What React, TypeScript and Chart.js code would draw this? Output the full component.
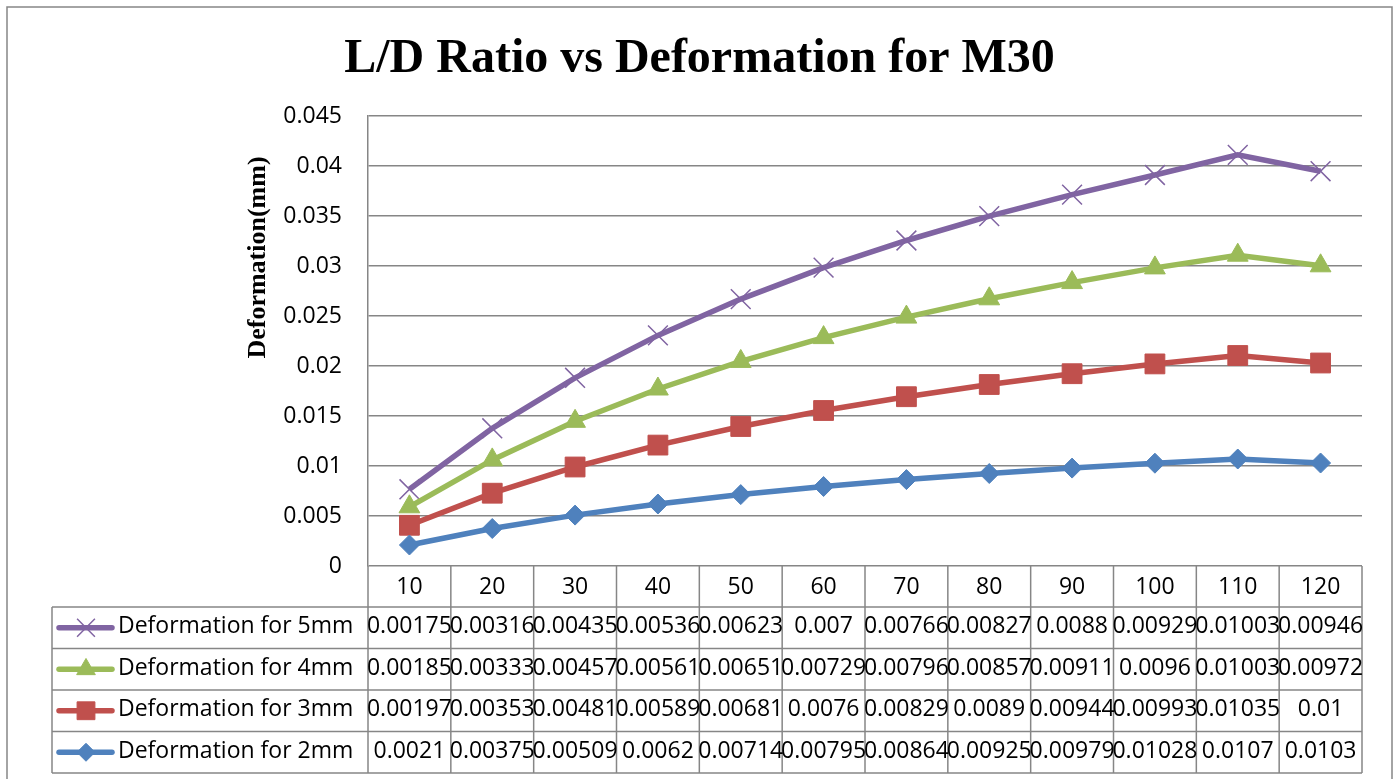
import React, { useEffect, useRef } from 'react';
import { Chart, registerables } from 'chart.js';
import { drawPoint } from 'chart.js/helpers';

Chart.register(...registerables);

const categories = ['10', '20', '30', '40', '50', '60', '70', '80', '90', '100', '110', '120'];
const def2mm = [0.0021, 0.00375, 0.00509, 0.0062, 0.00714, 0.00795, 0.00864, 0.00925, 0.00979, 0.01028, 0.0107, 0.0103];
const def3mm = [0.00197, 0.00353, 0.00481, 0.00589, 0.00681, 0.0076, 0.00829, 0.0089, 0.00944, 0.00993, 0.01035, 0.01];
const def4mm = [0.00185, 0.00333, 0.00457, 0.00561, 0.00651, 0.00729, 0.00796, 0.00857, 0.00911, 0.0096, 0.01003, 0.00972];
const def5mm = [0.00175, 0.00316, 0.00435, 0.00536, 0.00623, 0.007, 0.00766, 0.00827, 0.0088, 0.00929, 0.01003, 0.00946];
const seriesNames = ['Deformation for 2mm', 'Deformation for 3mm', 'Deformation for 4mm', 'Deformation for 5mm'];
const titleText = 'L/D Ratio vs Deformation for M30';
const yAxisTitle = 'Deformation(mm)';

const W = 1391;
const H = 773;
const GRID = '#868686';
const FONT = 'Open Sans';
const FSIZE = 23;

const tablePlugin = {
  id: 'excelTable',
  afterDraw(chart: any) {
    const ctx = chart.ctx as CanvasRenderingContext2D;
    const area = chart.chartArea;
    const xs = chart.scales.x;
    ctx.save();
    // outer border
    ctx.strokeStyle = GRID;
    ctx.lineWidth = 1.5;
    ctx.beginPath();
    ctx.moveTo(1, H + 5);
    ctx.lineTo(1, 1);
    ctx.lineTo(1386, 1);
    ctx.lineTo(1386, H + 5);
    ctx.stroke();

    // title
    ctx.fillStyle = '#000';
    ctx.font = 'bold 48px "Liberation Serif"';
    ctx.textAlign = 'center';
    ctx.textBaseline = 'alphabetic';
    ctx.fillText(titleText, 693.5, 66);

    // y axis title
    ctx.save();
    ctx.translate(259, 251.5);
    ctx.rotate(-Math.PI / 2);
    ctx.font = 'bold 26px "Liberation Serif"';
    ctx.fillText(yAxisTitle, 0, 0);
    ctx.restore();

    // table
    const n = categories.length;
    const step = xs.getPixelForValue(1) - xs.getPixelForValue(0);
    const colLeft = (i: number) => xs.getPixelForValue(i) - step / 2;
    const top = area.bottom;
    const headerH = 41;
    const rowH = 41.5;
    const tableLeft = 46;
    const bottom = top + headerH + rowH * 4;
    ctx.strokeStyle = GRID;
    ctx.lineWidth = 1.5;
    ctx.beginPath();
    for (let i = 0; i <= n; i++) {
      const x = i === n ? area.right : colLeft(i);
      ctx.moveTo(x, top);
      ctx.lineTo(x, bottom);
    }
    for (let r = 0; r <= 4; r++) {
      const y = top + headerH + r * rowH;
      ctx.moveTo(tableLeft, y);
      ctx.lineTo(area.right, y);
    }
    ctx.moveTo(tableLeft, top + headerH);
    ctx.lineTo(tableLeft, bottom);
    ctx.stroke();

    const datasets = chart.data.datasets;
    const order = [3, 2, 1, 0];
    order.forEach((di, r) => {
      const ds = datasets[di];
      const cy = top + headerH + r * rowH + rowH / 2;
      // legend key line
      ctx.strokeStyle = ds.borderColor;
      ctx.lineWidth = ds.borderWidth;
      ctx.lineCap = 'round';
      ctx.beginPath();
      ctx.moveTo(53, cy);
      ctx.lineTo(106, cy);
      ctx.stroke();
      ctx.lineCap = 'butt';
      ctx.fillStyle = ds.pointBackgroundColor;
      ctx.strokeStyle = ds.pointBorderColor;
      ctx.lineWidth = ds.pointBorderWidth;
      drawPoint(ctx, {
        pointStyle: ds.pointStyle,
        rotation: 0,
        radius: ds.pointRadius * 0.9,
        borderWidth: ds.pointBorderWidth,
      } as any, 80, cy);
      // label
      ctx.fillStyle = '#000';
      ctx.font = `${FSIZE}px "${FONT}"`;
      ctx.textAlign = 'left';
      ctx.textBaseline = 'middle';
      ctx.fillText(ds.label, 112, cy - 1);
      // values
      ctx.textAlign = 'center';
      (ds.data as number[]).forEach((v, i) => {
        ctx.fillText(String(v), xs.getPixelForValue(i), cy - 1);
      });
    });
    ctx.restore();
  },
};

export default function App() {
  const ref = useRef<HTMLCanvasElement>(null);
  useEffect(() => {
    if (!ref.current) return;
    const mk = (label: string, data: number[], color: string, style: string, radius: number, bw: number, lw: number) => ({
      label,
      data,
      borderColor: color,
      backgroundColor: color,
      borderWidth: lw,
      pointStyle: style,
      pointRadius: radius,
      pointBackgroundColor: color,
      pointBorderColor: color,
      pointBorderWidth: bw,
      fill: false,
      tension: 0,
    });
    const chart = new Chart(ref.current, {
      type: 'line',
      data: {
        labels: categories,
        datasets: [
          mk(seriesNames[0], def2mm, '#4F81BD', 'rectRot', 10, 1, 5.5),
          mk(seriesNames[1], def3mm, '#C0504D', 'rect', 14, 1, 5.5),
          mk(seriesNames[2], def4mm, '#9BBB59', 'triangle', 12, 1, 5.5),
          mk(seriesNames[3], def5mm, '#8064A2', 'crossRot', 14, 1.5, 5.5),
        ],
      },
      options: {
        responsive: false,
        animation: false,
        layout: { padding: { left: 202, right: 35, top: 110, bottom: 6 } },
        plugins: {
          legend: { display: false },
          title: { display: false },
          tooltip: { enabled: false },
        },
        scales: {
          x: {
            type: 'category',
            offset: true,
            grid: { display: false },
            border: { display: false },
            ticks: {
              color: '#000',
              font: { family: FONT, size: FSIZE },
              padding: 0,
              maxRotation: 0,
              autoSkip: false,
            },
            afterFit: (s: any) => { s.height = 207; },
          },
          y: {
            stacked: true,
            min: 0,
            max: 0.045,
            grid: { color: GRID, lineWidth: 1.5, drawTicks: false },
            border: { display: true, color: GRID, width: 1.5 },
            ticks: {
              stepSize: 0.005,
              color: '#000',
              font: { family: FONT, size: FSIZE },
              padding: 26,
              callback: (v: any) => String(Number(Number(v).toFixed(3))),
            },
            afterFit: (s: any) => { s.width = 160; },
          },
        },
      },
      plugins: [tablePlugin],
    });
    return () => chart.destroy();
  }, []);
  return (
    <div style={{ position: 'absolute', left: 6, top: 6, width: W, height: H }}>
      <canvas ref={ref} width={W} height={H} style={{ display: 'block', width: W, height: H }} />
    </div>
  );
}
